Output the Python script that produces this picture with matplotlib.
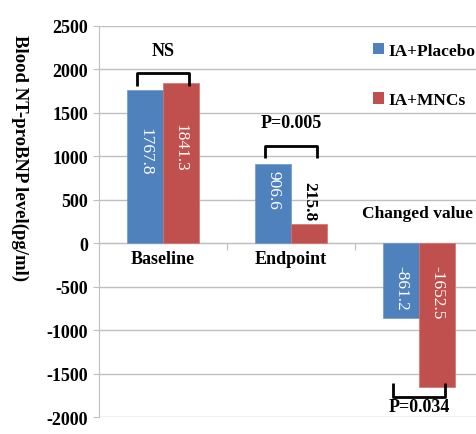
import matplotlib
matplotlib.use("Agg")
import matplotlib.pyplot as plt
from matplotlib.patches import Patch
import numpy as np

# data
categories = ["Baseline", "Endpoint", "Changed value"]
placebo = [1767.8, 906.6, -861.2]
mncs = [1841.3, 215.8, -1652.5]
series_names = ["IA+Placebo", "IA+MNCs"]
p_labels = ["NS", "P=0.005", "P=0.034"]
y_ticks = [-2000, -1500, -1000, -500, 0, 500, 1000, 1500, 2000, 2500]

blue = "#4F81BD"
red = "#C0504D"
grid_col = "#BFBFBF"

plt.rcParams['font.family'] = ['Liberation Serif', 'DejaVu Serif']
plt.rcParams['font.weight'] = 'bold'

fig = plt.figure(figsize=(4.77, 4.35), dpi=100)
ax = fig.add_axes([0.2075, 0.039, 0.805, 0.899])

x = np.arange(len(categories))
w = 0.28
ax.bar(x - w / 2, placebo, w, color=blue, edgecolor="#6f97c8", linewidth=0.5, zorder=3)
ax.bar(x + w / 2, mncs, w, color=red, edgecolor="#cf7370", linewidth=0.5, zorder=3)

ax.set_xlim(-0.5, 2.5)
ax.set_ylim(-2000, 2500)
ax.set_yticks(y_ticks)
ax.set_yticklabels([str(t) for t in y_ticks], fontsize=13, fontweight='bold')
ax.yaxis.grid(True, color=grid_col, linewidth=1.0, zorder=0)
ax.tick_params(axis='y', length=4, color=grid_col, pad=4)

# x axis at zero, ticks between categories
ax.spines['bottom'].set_position(('data', 0))
ax.spines['bottom'].set_color(grid_col)
ax.spines['left'].set_color(grid_col)
ax.spines['top'].set_visible(False)
ax.spines['right'].set_visible(False)
ax.set_xticks([0.5, 1.5])
ax.set_xticklabels([])
ax.tick_params(axis='x', length=5, color=grid_col, direction='out')

ax.set_ylabel("Blood NT-proBNP level(pg/ml)", fontsize=13.5, fontweight='bold',
              rotation=270)
ax.yaxis.set_label_coords(-0.23, 0.665)

# category labels
ax.text(0, -80, categories[0], ha='center', va='top', fontsize=13, fontweight='bold')
ax.text(1, -80, categories[1], ha='center', va='top', fontsize=13, fontweight='bold')
ax.annotate(categories[2], (1, 345), xycoords=('figure fraction', 'data'), xytext=(-3, 0),
            textcoords='offset points', ha='right', va='center', fontsize=12.5,
            fontweight='bold')

# value labels
for xi, v in [(x[0] - w / 2, placebo[0]), (x[0] + w / 2, mncs[0]), (x[1] - w / 2, placebo[1])]:
    ax.text(xi, v * 0.6 if v > 1000 else v * 0.68, f"{v}", rotation=270, ha='center',
            va='center', color='white', fontsize=12.5, fontweight='normal', zorder=4)
ax.annotate(f"{mncs[1]}", (x[1] + w / 2, mncs[1]), xytext=(0, 3), textcoords='offset points',
            rotation=270, ha='center', va='bottom', color='black', fontsize=12.5,
            fontweight='bold', zorder=4)
for xi, v in [(x[2] - w / 2, placebo[2]), (x[2] + w / 2, mncs[2])]:
    ax.annotate(f"{v}", (xi, 0), xytext=(0, -16), textcoords='offset points',
                rotation=270, ha='center', va='top', color='white', fontsize=12.5,
                fontweight='normal', zorder=4)

# significance brackets
def bracket(xc, y_bar, y_leg, label, y_text):
    xs = [xc - 0.2, xc - 0.2, xc + 0.2, xc + 0.2]
    ys = [y_leg, y_bar, y_bar, y_leg]
    ax.plot(xs, ys, color='black', linewidth=2, zorder=5, solid_capstyle='butt')
    ax.text(xc, y_text, label, ha='center', va='center', fontsize=13, fontweight='bold')

bracket(x[0], 1954, 1805, p_labels[0], 2220)
bracket(x[1], 1115, 977, p_labels[1], 1390)
bracket(x[2], -1770, -1609, p_labels[2], -1880)

# legend
handles = [Patch(facecolor=blue), Patch(facecolor=red)]
fig.legend(handles, series_names, loc='upper right', bbox_to_anchor=(0.997, 0.9),
           frameon=False, fontsize=12.5, handlelength=0.65, handleheight=0.65,
           handletextpad=0.25, labelspacing=1.95, borderpad=0, borderaxespad=0)

fig.savefig("out.png", dpi=100)
